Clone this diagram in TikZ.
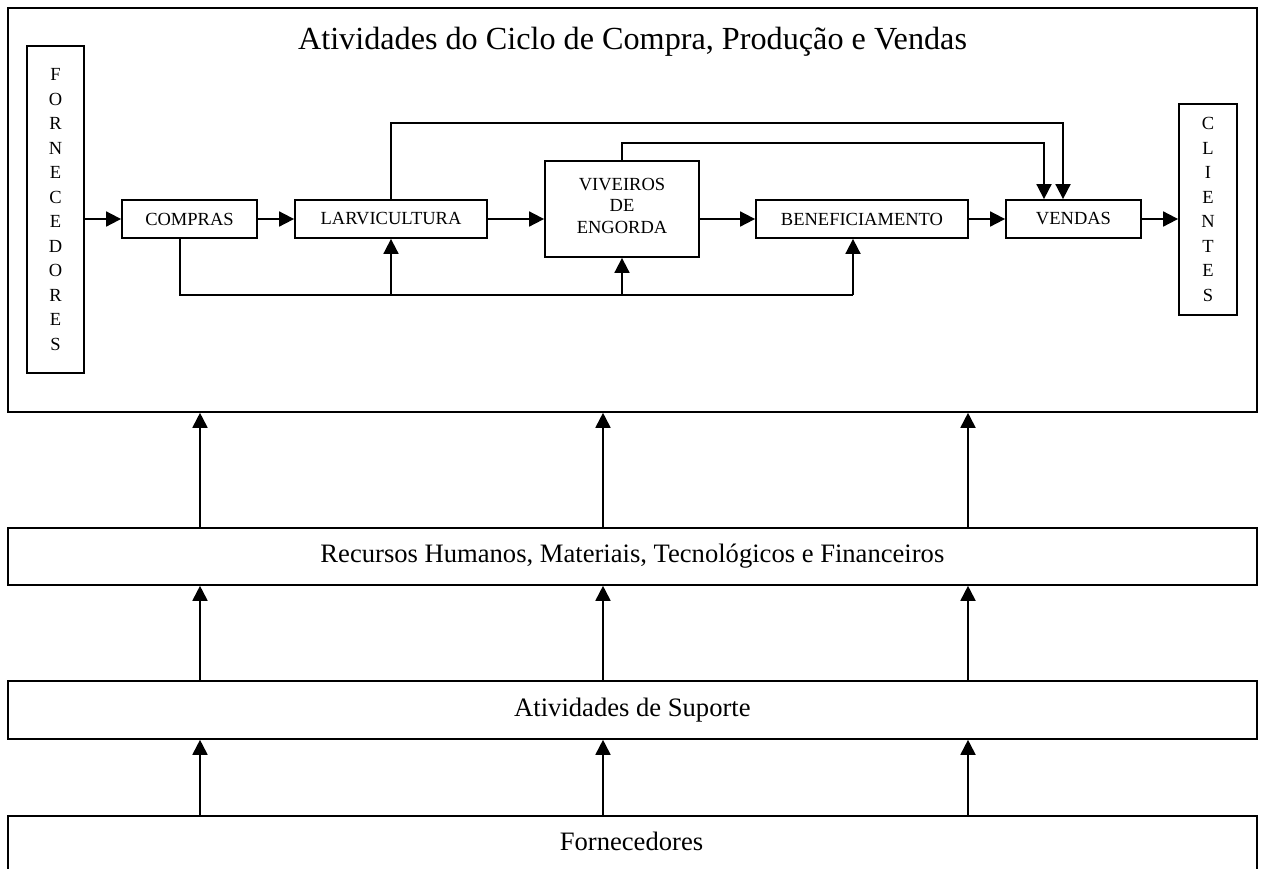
\documentclass[tikz,border=0pt]{standalone}
\usepackage{fontspec}
\setmainfont{Liberation Serif}
\usetikzlibrary{arrows.meta,calc}

\tikzset{
  every picture/.style={x=1pt,y=-1pt},
  ln/.style={line width=1.8pt,line join=miter},
  arr/.style={ln,-{Triangle[length=15pt,width=15pt]}},
  stepbox/.style={draw,ln,inner sep=0pt,anchor=center,align=center,
    font=\fontsize{18.5}{21.5}\selectfont},
  sidebox/.style={draw,ln,inner sep=0pt,anchor=center,align=center,
    font=\fontsize{18.5}{24.5}\selectfont},
  band/.style={draw,ln,inner sep=0pt,anchor=north west}
}

\begin{document}
\begin{tikzpicture}
\useasboundingbox (0,0) rectangle (1263,868);
\clip (0,0) rectangle (1263,868);

% outer frame of the cycle
\node[band,minimum width=1249pt,minimum height=404pt] (cycle) at (7,7) {};
\node[anchor=base,font=\fontsize{32.2}{32.2}\selectfont] (title) at (632.5,49.5)
  {Atividades do Ciclo de Compra, Produção e Vendas};

% supplier and client columns
\node[sidebox,minimum width=57pt,minimum height=327pt] (forn) at (55.5,209.5)
  {F\\O\\R\\N\\E\\C\\E\\D\\O\\R\\E\\S};
\node[sidebox,minimum width=58pt,minimum height=211pt] (cli) at (1208,209.5)
  {C\\L\\I\\E\\N\\T\\E\\S};

% process steps
\node[stepbox,minimum width=135pt,minimum height=38pt] (compras) at (189.5,219) {COMPRAS};
\node[stepbox,minimum width=192pt,minimum height=38pt] (larv) at (391,219) {LARVICULTURA};
\node[stepbox,minimum width=154pt,minimum height=96pt] (viv) at (622,209) {};
\node[align=center,inner sep=0pt,font=\fontsize{18.5}{21.5}\selectfont] (vivtxt) at (622,205.5)
  {VIVEIROS\\DE\\ENGORDA};
\node[stepbox,minimum width=212pt,minimum height=38pt] (benef) at (862,219) {BENEFICIAMENTO};
\node[stepbox,minimum width=135pt,minimum height=38pt] (vendas) at (1073.5,219) {VENDAS};

% main flow
\draw[arr] (forn.east |- compras.west) -- (compras.west);
\draw[arr] (compras) -- (larv);
\draw[arr] (larv.east) -- (viv.west |- larv.east);
\draw[arr] (viv.east |- benef.west) -- (benef.west);
\draw[arr] (benef) -- (vendas);
\draw[arr] (vendas.east) -- (cli.west |- vendas.east);

% feed-forward lines into sales
\coordinate (topA) at (1063,123);
\coordinate (topB) at (1044,143);
\draw[arr] (larv.north) |- (topA) -- (vendas.north -| topA);
\draw[arr] (viv.north) |- (topB) -- (vendas.north -| topB);

% purchasing bus
\coordinate (busL) at (180,295);
\coordinate (busR) at (853,295);
\draw[ln] (compras.south -| busL) -- (busL) -- (busR);
\draw[arr] (busR) -- (benef.south -| busR);
\draw[arr] (busL -| larv.south) -- (larv.south);
\draw[arr] (busL -| viv.south) -- (viv.south);

% support layers
\node[band,minimum width=1249pt,minimum height=57pt] (rec) at (7,527) {};
\node[font=\fontsize{26.6}{26.6}\selectfont] (rectxt) at (rec.center)
  {Recursos Humanos, Materiais, Tecnológicos e Financeiros};
\node[band,minimum width=1249pt,minimum height=58pt] (sup) at (7,680) {};
\node[font=\fontsize{26.6}{26.6}\selectfont] (suptxt) at (sup.center)
  {Atividades de Suporte};
\node[band,minimum width=1249pt,minimum height=60pt] (fornb) at (7,815) {};
\node[font=\fontsize{26.6}{26.6}\selectfont] (forntxt) at (631.5,841.7)
  {Fornecedores};

% upward arrows between layers
\foreach \x in {200,603,968}{
  \draw[arr] (rec.north -| \x,0) -- (cycle.south -| \x,0);
  \draw[arr] (sup.north -| \x,0) -- (rec.south -| \x,0);
  \draw[arr] (fornb.north -| \x,0) -- (sup.south -| \x,0);
}
\end{tikzpicture}
\end{document}
